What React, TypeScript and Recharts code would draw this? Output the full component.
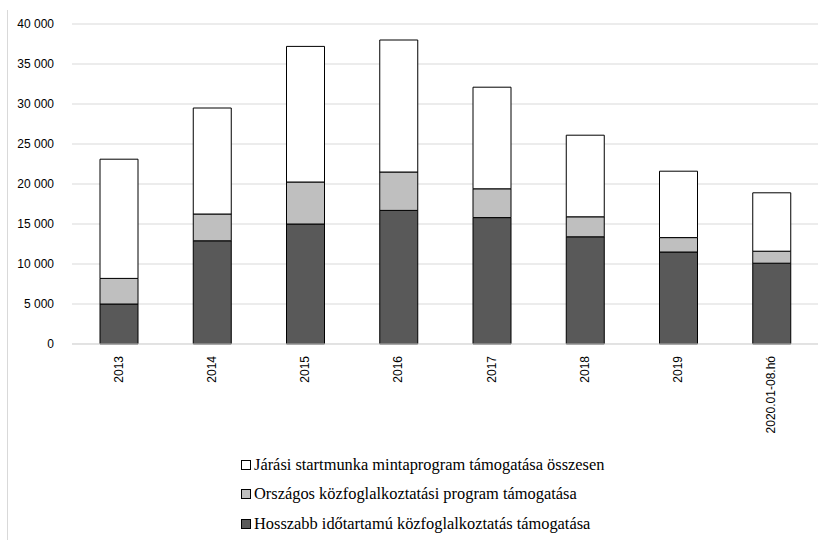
import { BarChart, Bar, XAxis, YAxis, CartesianGrid, Legend } from 'recharts'

const categories = ['2013', '2014', '2015', '2016', '2017', '2018', '2019', '2020.01-08.hó']
const hosszabb = [5000, 12900, 15000, 16700, 15800, 13400, 11500, 10100]
const orszagos = [3200, 3350, 5250, 4800, 3600, 2500, 1800, 1500]
const jarasi = [14900, 13250, 16950, 16500, 12700, 10200, 8300, 7300]
const yTicks = [0, 5000, 10000, 15000, 20000, 25000, 30000, 35000, 40000]

const seriesNames = {
  hosszabb: 'Hosszabb időtartamú közfoglalkoztatás támogatása',
  orszagos: 'Országos közfoglalkoztatási program támogatása',
  jarasi: 'Járási startmunka mintaprogram támogatása összesen',
}

const data = categories.map((c, i) => ({
  name: c,
  hosszabb: hosszabb[i],
  orszagos: orszagos[i],
  jarasi: jarasi[i],
}))

const fmtNum = (v: number) => String(v).replace(/\B(?=(\d{3})+(?!\d))/g, ' ')

function XTick({ x, y, payload }: { x?: number; y?: number; payload?: { value: string } }) {
  return (
    <text
      x={x}
      y={y}
      transform={`rotate(-90, ${x}, ${y})`}
      textAnchor="end"
      dominantBaseline="central"
      fontSize={12}
      fontFamily="'Liberation Sans', Arial, sans-serif"
      fill="#000"
    >
      {payload?.value}
    </text>
  )
}

const legendRows = [
  { key: 'jarasi', color: '#ffffff' },
  { key: 'orszagos', color: '#bfbfbf' },
  { key: 'hosszabb', color: '#595959' },
] as const

function LegendBox() {
  return (
    <div style={{ paddingLeft: 241, paddingTop: 6 }}>
      {legendRows.map(r => (
        <div key={r.key} style={{ display: 'flex', alignItems: 'center', height: 29.5 }}>
          <span
            style={{
              width: 10, height: 10, boxSizing: 'border-box', border: '1px solid #000',
              background: r.color, display: 'inline-block', marginRight: 3,
            }}
          />
          <span style={{ fontFamily: "'Liberation Serif', serif", fontSize: 16.4, color: '#000', whiteSpace: 'nowrap' }}>
            {seriesNames[r.key]}
          </span>
        </div>
      ))}
    </div>
  )
}

export default function App() {
  return (
    <div style={{ position: 'absolute', left: 0, top: 0, width: 821, height: 540, background: '#fff' }}>
      <div style={{ position: 'absolute', left: 7, top: 10, width: 1, height: 530, background: '#d9d9d9' }} />
      <BarChart width={821} height={540} data={data} margin={{ top: 24, right: 3, left: 0, bottom: 0 }}>
        <CartesianGrid horizontal vertical={false} stroke="#d9d9d9" />
        <XAxis
          dataKey="name"
          interval={0}
          height={100}
          tickLine={false}
          tickSize={0}
          tickMargin={12}
          axisLine={{ stroke: '#d9d9d9' }}
          tick={<XTick />}
        />
        <YAxis
          domain={[0, 40000]}
          ticks={yTicks}
          width={72}
          tickFormatter={fmtNum}
          axisLine={false}
          tickLine={false}
          tickSize={0}
          tickMargin={18}
          tick={{ fontSize: 12, fill: '#000', fontFamily: "'Liberation Sans', Arial, sans-serif" }}
          interval={0}
        />
        <Legend verticalAlign="bottom" height={96} content={<LegendBox />} />
        <Bar dataKey="hosszabb" name={seriesNames.hosszabb} stackId="a" fill="#595959" stroke="#000" strokeWidth={1} barSize={38} isAnimationActive={false} />
        <Bar dataKey="orszagos" name={seriesNames.orszagos} stackId="a" fill="#bfbfbf" stroke="#000" strokeWidth={1} barSize={38} isAnimationActive={false} />
        <Bar dataKey="jarasi" name={seriesNames.jarasi} stackId="a" fill="#ffffff" stroke="#000" strokeWidth={1} barSize={38} isAnimationActive={false} />
      </BarChart>
    </div>
  )
}
